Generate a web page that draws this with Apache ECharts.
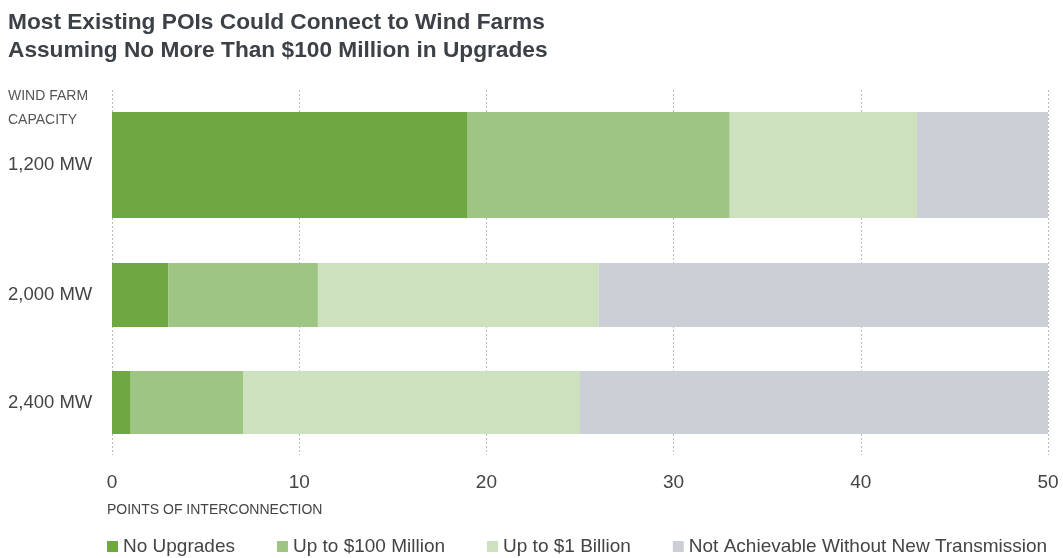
<!DOCTYPE html>
<html>
<head>
<meta charset="utf-8">
<script src="https://cdn.jsdelivr.net/npm/echarts@6/dist/echarts.min.js"></script>
<style>
html,body{margin:0;padding:0;background:#fff;}
#chart{width:1063px;height:558px;}
</style>
</head>
<body>
<div id="chart"></div>
<script>
// ---- data ----
const categories = ['1,200 MW', '2,000 MW', '2,400 MW'];
const seriesNames = ['No Upgrades', 'Up to $100 Million', 'Up to $1 Billion', 'Not Achievable Without New Transmission'];
const noUpgrades = [19, 3, 1];
const upTo100M = [14, 8, 6];
const upTo1B = [10, 15, 18];
const notAchievable = [7, 24, 25];
const xTicks = [0, 10, 20, 30, 40, 50];

// ---- styles / layout ----
const colors = ['#6fa843', '#9fc584', '#cde1bf', '#cbd0d6'];
const values = [noUpgrades, upTo100M, upTo1B, notAchievable];
const FONT = '"Liberation Sans", Arial, sans-serif';
const rowBands = [ {top:112, height:106}, {top:263, height:64}, {top:371, height:63} ];
const LEFT = 112, RIGHT = 1063 - 1048;

const grids = [{left: LEFT, right: RIGHT, top: 90, height: 365}];
const xAxes = [{
  gridIndex: 0, type: 'value', min: xTicks[0], max: xTicks[xTicks.length-1], interval: 10,
  axisLine: {show:false}, axisTick: {show:false},
  axisLabel: {fontSize: 19, color: '#444', margin: 18, fontFamily: FONT},
  splitLine: {show:true, lineStyle: {color:'#b8bcc0', type:[2,2], width:1}}
}];
const yAxes = [{gridIndex: 0, type: 'value', show: false}];
const series = [];

categories.forEach((cat, i) => {
  const gi = i + 1;
  grids.push({left: LEFT, right: RIGHT, top: rowBands[i].top, height: rowBands[i].height});
  xAxes.push({gridIndex: gi, type: 'value', min: 0, max: 50, show: false});
  yAxes.push({
    gridIndex: gi, type: 'category', data: [cat],
    axisLine: {show:false}, axisTick: {show:false}, splitLine:{show:false},
    axisLabel: {align: 'left', margin: 104, fontSize: 18.5, color: '#444', fontFamily: FONT}
  });
  seriesNames.forEach((name, s) => {
    series.push({
      name: name, type: 'bar', stack: 'row' + i,
      xAxisIndex: gi, yAxisIndex: gi,
      barWidth: '100%',
      itemStyle: {color: colors[s]},
      emphasis: {disabled: true},
      data: [values[s][i]]
    });
  });
});

const chart = echarts.init(document.getElementById('chart'), null, {renderer: 'canvas'});
chart.setOption({
  animation: false,
  textStyle: {fontFamily: FONT},
  title: {
    text: 'Most Existing POIs Could Connect to Wind Farms\nAssuming No More Than $100 Million in Upgrades',
    left: 3, top: 4,
    textStyle: {fontSize: 22.7, fontWeight: 'bold', color: '#3c4147', lineHeight: 28, fontFamily: FONT}
  },
  graphic: [
    {type:'text', left: 8, top: 89, style: {text: 'WIND FARM', font: '14px "Liberation Sans", Arial, sans-serif', fill:'#555'}},
    {type:'text', left: 8, top: 113, style: {text: 'CAPACITY', font: '14px "Liberation Sans", Arial, sans-serif', fill:'#555'}},
    {type:'text', left: 107, top: 503, style: {text: 'POINTS OF INTERCONNECTION', font: '14px "Liberation Sans", Arial, sans-serif', fill:'#444'}}
  ],
  legend: {
    data: seriesNames, left: 102, top: 532,
    icon: 'rect', itemWidth: 11, itemHeight: 11, itemGap: 42,
    textStyle: {fontSize: 19, color: '#444', fontFamily: FONT},
    selectedMode: false
  },
  grid: grids,
  xAxis: xAxes,
  yAxis: yAxes,
  series: series
});
</script>
</body>
</html>
